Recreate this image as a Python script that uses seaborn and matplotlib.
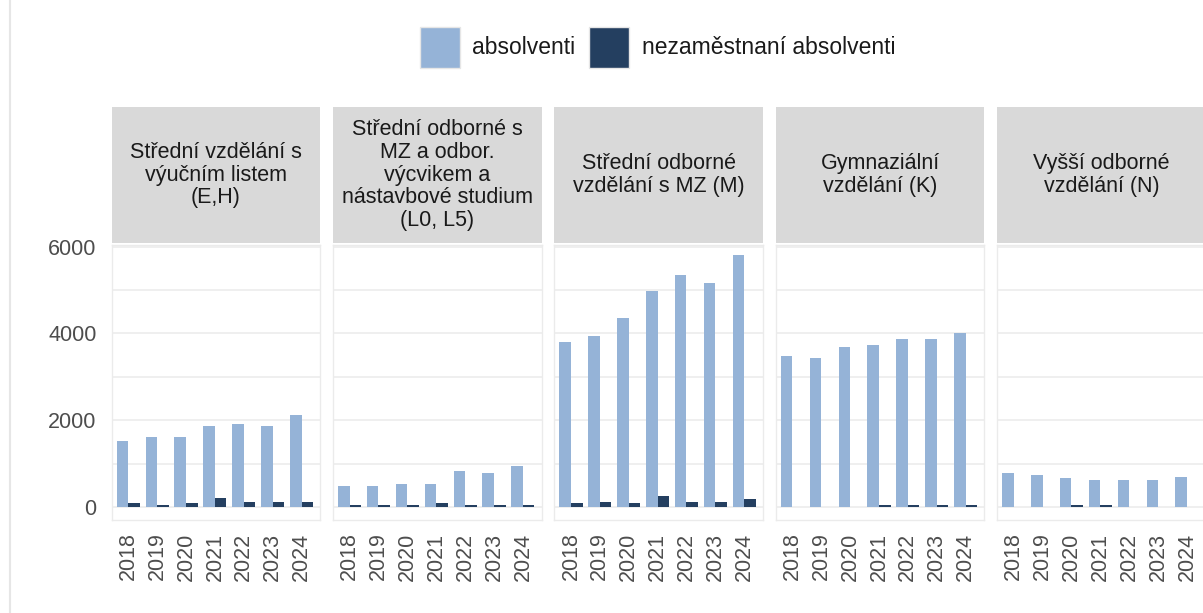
import matplotlib
matplotlib.use('Agg')
from matplotlib import pyplot as plt
from matplotlib.patches import Patch
from matplotlib.lines import Line2D
import seaborn as sns
import pandas as pd

roky = ['2018', '2019', '2020', '2021', '2022', '2023', '2024']
kategorie = ['Střední vzdělání s\nvýučním listem\n(E,H)',
             'Střední odborné s\nMZ a odbor.\nvýcvikem a\nnástavbové studium\n(L0, L5)',
             'Střední odborné\nvzdělání s MZ (M)',
             'Gymnaziální\nvzdělání (K)',
             'Vyšší odborné\nvzdělání (N)']
serie = ['absolventi', 'nezaměstnaní absolventi']
barvy = ['#95b3d7', '#243f60']

abs_eh = [1530, 1620, 1620, 1865, 1905, 1865, 2115]
nez_eh = [85, 45, 85, 215, 120, 120, 120]
abs_l = [490, 490, 535, 535, 830, 785, 950]
nez_l = [40, 40, 40, 85, 40, 40, 40]
abs_m = [3810, 3940, 4350, 4975, 5345, 5175, 5805]
nez_m = [85, 120, 85, 255, 120, 120, 175]
abs_k = [3480, 3440, 3695, 3735, 3865, 3865, 4015]
nez_k = [0, 0, 0, 40, 40, 40, 40]
abs_n = [790, 745, 670, 620, 620, 620, 700]
nez_n = [0, 0, 40, 40, 0, 0, 0]

rows = []
for kat, a, n in zip(kategorie, [abs_eh, abs_l, abs_m, abs_k, abs_n],
                     [nez_eh, nez_l, nez_m, nez_k, nez_n]):
    for rok, va, vn in zip(roky, a, n):
        rows.append((kat, rok, serie[0], va))
        rows.append((kat, rok, serie[1], vn))
df = pd.DataFrame(rows, columns=['kategorie', 'rok', 'serie', 'pocet'])

sns.set_style('white')
plt.rcParams['font.family'] = ['Liberation Sans', 'DejaVu Sans']

fig, axes = plt.subplots(1, 5, figsize=(12.03, 6.13), dpi=100, sharey=True)
fig.subplots_adjust(left=0.0929, right=1.0023, bottom=0.1517, top=0.6003, wspace=0.0614)

for ax, kat in zip(axes, kategorie):
    sub = df[df.kategorie == kat]
    sns.barplot(data=sub, x='rok', y='pocet', hue='serie', hue_order=serie,
                palette=barvy, saturation=1, width=0.8, linewidth=0,
                legend=False, ax=ax)
    ax.set_xlim(-0.57, 6.65)
    ax.set_ylim(-300, 6040)
    ax.set_yticks([0, 2000, 4000, 6000])
    ax.set_yticks([1000, 3000, 5000], minor=True)
    ax.grid(axis='y', which='both', color='#ebebeb', linewidth=1.1)
    ax.grid(axis='x', visible=False)
    ax.set_axisbelow(True)
    for s in ax.spines.values():
        s.set_visible(True)
        s.set_color('#ebebeb')
        s.set_linewidth(1)
    ax.set_xlabel('')
    ax.set_ylabel('')
    ax.tick_params(axis='x', length=0, pad=9, labelsize=15.5, labelcolor='#4d4d4d', labelrotation=90)
    ax.tick_params(axis='y', which='both', length=0, pad=11, labelsize=15.5, labelcolor='#4d4d4d')

    pos = ax.get_position()
    sax = fig.add_axes([pos.x0, 0.6036, pos.width, 0.2218])
    sax.set_facecolor('#d9d9d9')
    sax.set_xticks([])
    sax.set_yticks([])
    for s in sax.spines.values():
        s.set_visible(False)
    sax.text(0.5, 0.5, kat, ha='center', va='center', fontsize=15.5,
             color='#1a1a1a', linespacing=1.1, transform=sax.transAxes)

handles = [Patch(facecolor=c, edgecolor='#e6e6e6', linewidth=1) for c in barvy]
fig.legend(handles, serie, loc='center', bbox_to_anchor=(0.5466, 0.923), ncol=2,
           frameon=False, fontsize=16.5, handlelength=1.75, handleheight=2.35,
           handletextpad=0.55, columnspacing=0.6, labelcolor='#1a1a1a')

fig.add_artist(Line2D([10 / 1203, 10 / 1203], [0, 1], transform=fig.transFigure,
                      color='#e6e6e6', linewidth=1.5))

plt.savefig('out.png', dpi=100)
